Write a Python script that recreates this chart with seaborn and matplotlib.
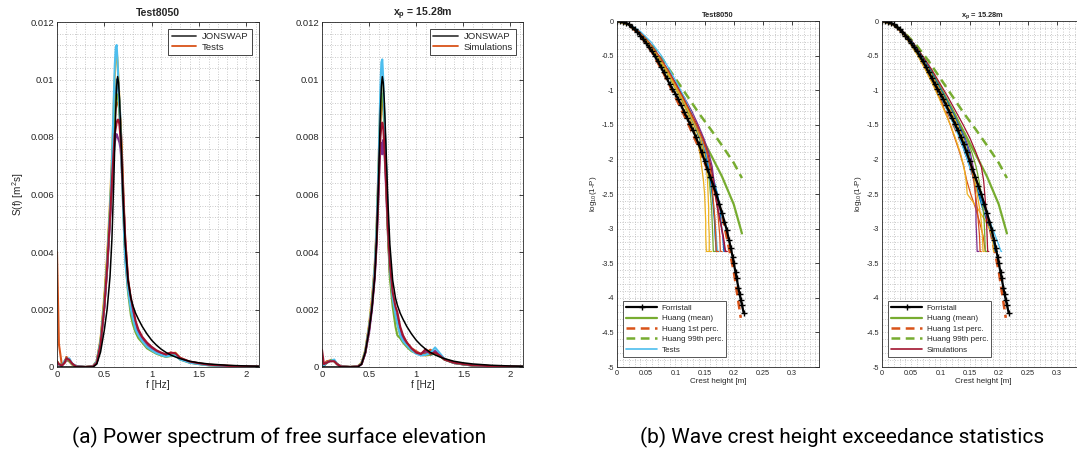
import numpy as np
import matplotlib
matplotlib.use("Agg")
import matplotlib.pyplot as plt
import seaborn as sns
from matplotlib.lines import Line2D
from matplotlib.ticker import AutoMinorLocator

# ---------------- power spectra (values in 1e-4 m^2 s) ----------------
FREQ = [0.00, 0.02, 0.05, 0.08, 0.10, 0.13, 0.16, 0.20, 0.30, 0.38,
        0.42, 0.46, 0.50, 0.53, 0.56, 0.58, 0.60, 0.61, 0.62, 0.63,
        0.64, 0.65, 0.66, 0.67, 0.68, 0.70, 0.72, 0.75, 0.78, 0.80,
        0.83, 0.86, 0.90, 0.95, 1.00, 1.05, 1.10, 1.15, 1.20, 1.25,
        1.30, 1.40, 1.50, 1.60, 1.80, 2.00, 2.13]

JONSWAP = [0, 0, 0, 0, 0, 0, 0, 0, 0, 0,
           1.0, 5.2, 12.9, 20.3, 31.5, 44.6, 65.1, 77.4, 89.3, 97.6,
           101.0, 98.9, 93.3, 85.1, 75.6, 57.1, 42.8, 30.2, 24.0, 21.5,
           18.7, 16.6, 14.1, 11.5, 9.3, 7.6, 6.2, 5.1, 4.2, 3.5,
           2.9, 2.0, 1.45, 1.06, 0.60, 0.36, 0.26]

# measured spectra, Test8050
P1_BLUE = [1.0, 1.0, 0.5, 2.0, 3.0, 2.5, 1.0, 0.3, 0.0, 0.2,
           1.5, 8.0, 21, 35, 53, 68, 84, 92, 97, 100,
           98, 96, 92, 86, 78, 60, 42, 28, 21, 18,
           14, 12, 9.5, 7.5, 6.0, 5.2, 4.4, 3.8, 4.2, 4.0,
           2.8, 1.6, 1.1, 0.7, 0.35, 0.18, 0.1]
P1_ORANGE = [40, 8.0, 1.0, 1.5, 3.5, 2.0, 1.0, 0.2, 0.0, 0.3,
             2.0, 9.0, 23, 37, 54, 67, 80, 86, 90, 92,
             92, 91, 89, 85, 79, 62, 44, 31, 23, 20,
             15, 12.5, 10, 8.0, 6.5, 5.4, 4.8, 4.2, 5.0, 4.6,
             3.0, 1.8, 1.2, 0.8, 0.4, 0.2, 0.12]
P1_YELLOW = [2.0, 1.0, 0.5, 1.5, 2.5, 2.0, 0.8, 0.2, 0.0, 0.2,
             2.2, 10, 25, 39, 58, 73, 92, 101, 107, 110,
             106, 100, 92, 84, 75, 56, 40, 28, 20, 17,
             13, 11, 9.0, 7.0, 6.0, 5.0, 4.2, 3.8, 4.6, 5.0,
             3.2, 1.7, 1.1, 0.7, 0.35, 0.18, 0.1]
P1_PURPLE = [1.5, 0.8, 0.4, 1.5, 2.5, 2.0, 1.0, 0.2, 0.0, 0.2,
             1.6, 8.0, 21, 34, 51, 63, 74, 78, 80, 81,
             80, 79, 78, 76, 72, 58, 43, 30, 22, 19,
             15, 12, 10, 8.0, 6.5, 5.4, 4.6, 4.0, 4.4, 4.2,
             2.8, 1.7, 1.1, 0.7, 0.35, 0.18, 0.1]
P1_GREEN = [2.0, 1.0, 0.6, 2.0, 3.0, 2.0, 1.0, 0.2, 0.0, 0.2,
            2.0, 9.0, 23, 37, 55, 69, 84, 90, 93, 95,
            94, 92, 88, 82, 74, 55, 38, 26, 18, 15,
            12, 10, 8.5, 6.5, 5.5, 4.6, 4.0, 3.5, 3.8, 4.2,
            2.6, 1.5, 1.0, 0.6, 0.3, 0.15, 0.08]
P1_LIGHTBLUE = [1.5, 1.0, 0.5, 2.0, 2.8, 3.0, 1.2, 0.3, 0.0, 0.2,
                2.0, 9.0, 22, 36, 55, 71, 94, 105, 111, 112,
                106, 98, 90, 82, 72, 53, 37, 27, 20, 17,
                13, 11, 9.0, 7.0, 5.8, 4.8, 4.2, 3.6, 4.0, 4.0,
                2.6, 1.5, 1.0, 0.6, 0.3, 0.15, 0.08]
P1_DARKRED = [2.0, 1.0, 0.5, 1.5, 3.0, 2.5, 1.2, 0.2, 0.0, 0.2,
              1.5, 8.0, 21, 35, 52, 65, 76, 81, 83, 85,
              86, 86, 84, 80, 75, 58, 45, 30, 24, 21,
              16, 13, 10.5, 8.5, 7.0, 5.8, 5.0, 4.4, 5.0, 4.8,
              3.2, 1.9, 1.3, 0.8, 0.4, 0.2, 0.12]

# simulated spectra at x_p = 15.28 m
P2_BLUE = [1.0, 0.5, 1.5, 2.0, 2.2, 2.0, 1.0, 0.2, 0.0, 0.2,
           1.0, 5.0, 13, 21, 33, 46, 66, 78, 89, 96,
           98, 95, 88, 80, 70, 50, 35, 24, 18, 16,
           12, 10, 8.0, 6.0, 5.0, 4.5, 4.6, 4.2, 4.8, 4.0,
           2.6, 1.4, 0.9, 0.5, 0.25, 0.12, 0.08]
P2_ORANGE = [2.0, 1.0, 2.0, 2.2, 2.5, 2.2, 1.0, 0.2, 0.0, 0.2,
             1.2, 5.5, 14, 22, 34, 47, 65, 76, 85, 91,
             93, 92, 84, 76, 66, 48, 34, 24, 19, 17,
             13, 10.5, 8.5, 6.5, 5.5, 4.5, 5.0, 6.0, 5.0, 4.2,
             2.8, 1.6, 1.1, 0.6, 0.3, 0.15, 0.1]
P2_YELLOW = [1.0, 0.5, 1.5, 2.0, 2.4, 2.0, 1.0, 0.2, 0.0, 0.3,
             1.5, 6.0, 15, 24, 36, 50, 70, 83, 93, 99,
             100, 96, 88, 78, 68, 48, 33, 23, 17, 15,
             11, 9.0, 7.5, 5.8, 4.8, 4.2, 4.0, 4.4, 5.2, 4.0,
             2.6, 1.5, 1.0, 0.6, 0.3, 0.15, 0.1]
P2_PURPLE = [1.0, 0.5, 1.5, 2.0, 2.2, 2.2, 1.0, 0.2, 0.0, 0.2,
             1.0, 5.0, 12, 20, 31, 43, 60, 70, 76, 78,
             74, 79, 76, 70, 62, 46, 33, 24, 18, 16,
             12, 9.5, 8.0, 6.0, 5.0, 4.5, 5.5, 4.6, 5.6, 4.2,
             2.6, 1.4, 0.9, 0.5, 0.25, 0.12, 0.08]
P2_GREEN = [1.0, 0.5, 1.5, 2.0, 2.5, 2.0, 1.0, 0.2, 0.0, 0.2,
            1.2, 5.5, 14, 22, 34, 47, 67, 79, 88, 94,
            95, 92, 85, 76, 66, 46, 31, 21, 14, 11,
            10, 8.5, 7.0, 5.5, 4.8, 4.2, 4.2, 4.4, 4.6, 3.8,
            2.6, 1.4, 0.9, 0.5, 0.25, 0.12, 0.08]
P2_LIGHTBLUE = [1.0, 0.5, 1.5, 2.0, 2.2, 2.6, 1.0, 0.2, 0.0, 0.2,
                1.2, 5.5, 14, 22, 35, 49, 70, 84, 98, 106,
                107, 100, 90, 80, 70, 50, 35, 24, 18, 15,
                11, 9.0, 7.5, 5.8, 4.6, 4.0, 4.2, 4.8, 6.8, 4.8,
                2.8, 1.5, 1.0, 0.6, 0.3, 0.15, 0.1]
P2_DARKRED = [6.0, 1.0, 1.5, 2.0, 2.0, 2.0, 1.0, 0.2, 0.0, 0.2,
              1.0, 5.0, 13, 21, 32, 44, 62, 72, 80, 84,
              85, 83, 78, 72, 64, 48, 36, 26, 21, 19,
              14, 11, 8.5, 6.5, 5.0, 4.5, 6.2, 4.6, 5.0, 4.0,
              2.6, 1.5, 1.0, 0.6, 0.3, 0.15, 0.1]

# ---------------- crest height exceedance ----------------
# theoretical distributions: crest height [m] vs log10(1-P)
FORRISTALL_X = [0.000, 0.005, 0.010, 0.015, 0.020, 0.025, 0.030, 0.035, 0.040,
                0.045, 0.050, 0.055, 0.060, 0.065, 0.070, 0.075, 0.080, 0.085,
                0.090, 0.095, 0.100, 0.105, 0.110, 0.115, 0.120, 0.125, 0.130,
                0.135, 0.140, 0.145, 0.150, 0.155, 0.160, 0.165, 0.170, 0.175,
                0.180, 0.184, 0.188, 0.192, 0.195, 0.198, 0.200, 0.203, 0.205,
                0.208, 0.210, 0.212, 0.214, 0.217]
FORRISTALL_Y = [0.00, -0.003, -0.01, -0.025, -0.05, -0.08, -0.12, -0.16, -0.21,
                -0.26, -0.32, -0.38, -0.44, -0.51, -0.58, -0.66, -0.74, -0.82,
                -0.91, -0.98, -1.05, -1.13, -1.22, -1.31, -1.40, -1.49, -1.58,
                -1.68, -1.78, -1.90, -2.02, -2.14, -2.26, -2.38, -2.50, -2.64,
                -2.78, -2.90, -3.02, -3.17, -3.28, -3.41, -3.50, -3.63, -3.72,
                -3.86, -3.95, -4.03, -4.10, -4.22]
HUANG_X = [0.000, 0.020, 0.040, 0.060, 0.080, 0.100, 0.120, 0.140, 0.160,
           0.180, 0.200, 0.214]
HUANG_MEAN_Y = [0.00, -0.05, -0.19, -0.40, -0.66, -0.96, -1.27, -1.60, -1.92,
                -2.25, -2.65, -3.07]
HUANG_P99_Y = [0.00, -0.05, -0.18, -0.36, -0.58, -0.83, -1.08, -1.33, -1.56,
               -1.80, -2.05, -2.27]
HUANG_P01_X = [0.000, 0.020, 0.040, 0.060, 0.080, 0.100, 0.120, 0.140, 0.160,
               0.180, 0.200, 0.212]
HUANG_P01_Y = [0.00, -0.05, -0.21, -0.45, -0.76, -1.10, -1.45, -1.83, -2.27,
               -2.80, -3.62, -4.29]

# empirical exceedance levels shared by the measured/simulated records
EXC_LEVELS = [0.0, -0.05, -0.15, -0.3, -0.5, -0.7, -0.9, -1.1, -1.3, -1.5,
              -1.7, -1.9, -2.1, -2.3, -2.5, -2.7, -2.9, -3.1, -3.33, -3.33]

# crest heights [m] of the measured records (Test8050)
T_BLUE = [0.000, 0.020, 0.037, 0.054, 0.071, 0.086, 0.099, 0.112, 0.124, 0.135,
          0.145, 0.153, 0.160, 0.166, 0.172, 0.177, 0.178, 0.181, 0.183, 0.187]
T_ORANGE = [0.000, 0.020, 0.036, 0.053, 0.070, 0.085, 0.098, 0.111, 0.123, 0.134,
            0.144, 0.152, 0.158, 0.163, 0.168, 0.172, 0.174, 0.176, 0.177, 0.180]
T_YELLOW = [0.000, 0.019, 0.035, 0.052, 0.069, 0.083, 0.096, 0.108, 0.119, 0.129,
            0.137, 0.142, 0.145, 0.148, 0.150, 0.151, 0.152, 0.152, 0.153, 0.158]
T_PURPLE = [0.000, 0.020, 0.037, 0.054, 0.072, 0.087, 0.101, 0.115, 0.128, 0.139,
            0.149, 0.157, 0.163, 0.166, 0.169, 0.173, 0.177, 0.181, 0.185, 0.188]
T_GREEN = [0.000, 0.019, 0.036, 0.053, 0.070, 0.085, 0.098, 0.110, 0.121, 0.132,
           0.141, 0.148, 0.154, 0.158, 0.160, 0.162, 0.163, 0.164, 0.165, 0.169]
T_LIGHTBLUE = [0.000, 0.022, 0.040, 0.058, 0.076, 0.090, 0.103, 0.115, 0.126, 0.136,
               0.145, 0.152, 0.157, 0.160, 0.163, 0.166, 0.168, 0.170, 0.172, 0.176]
T_DARKRED = [0.000, 0.020, 0.037, 0.053, 0.071, 0.086, 0.100, 0.113, 0.125, 0.137,
             0.147, 0.155, 0.161, 0.165, 0.168, 0.172, 0.177, 0.182, 0.186, 0.189]
T_BLUE2 = [0.000, 0.019, 0.036, 0.053, 0.070, 0.085, 0.098, 0.110, 0.122, 0.133,
           0.142, 0.150, 0.156, 0.160, 0.163, 0.165, 0.167, 0.168, 0.170, 0.172]
T_ORANGE2 = [0.000, 0.020, 0.037, 0.054, 0.071, 0.086, 0.099, 0.112, 0.124, 0.136,
             0.146, 0.154, 0.159, 0.162, 0.164, 0.166, 0.168, 0.169, 0.170, 0.174]
T_YELLOW2 = [0.000, 0.019, 0.035, 0.052, 0.069, 0.084, 0.097, 0.110, 0.122, 0.133,
             0.143, 0.149, 0.153, 0.155, 0.156, 0.157, 0.157, 0.158, 0.158, 0.162]

# crest heights [m] of the simulated records (x_p = 15.28 m)
S_BLUE = [0.000, 0.019, 0.034, 0.049, 0.065, 0.079, 0.091, 0.103, 0.114, 0.125,
          0.134, 0.142, 0.150, 0.158, 0.165, 0.172, 0.180, 0.188, 0.195, 0.198]
S_ORANGE = [0.000, 0.018, 0.033, 0.047, 0.062, 0.075, 0.087, 0.098, 0.108, 0.117,
            0.125, 0.133, 0.140, 0.145, 0.152, 0.160, 0.167, 0.173, 0.177, 0.180]
S_YELLOW = [0.000, 0.018, 0.032, 0.046, 0.061, 0.074, 0.086, 0.097, 0.107, 0.117,
            0.126, 0.134, 0.140, 0.144, 0.146, 0.163, 0.178, 0.189, 0.191, 0.194]
S_PURPLE = [0.000, 0.019, 0.034, 0.050, 0.066, 0.081, 0.095, 0.108, 0.121, 0.133,
            0.143, 0.151, 0.156, 0.159, 0.160, 0.161, 0.161, 0.162, 0.163, 0.166]
S_GREEN = [0.000, 0.019, 0.035, 0.051, 0.068, 0.083, 0.096, 0.109, 0.122, 0.134,
           0.145, 0.154, 0.161, 0.166, 0.170, 0.173, 0.175, 0.176, 0.177, 0.179]
S_LIGHTBLUE = [0.000, 0.018, 0.033, 0.048, 0.063, 0.077, 0.089, 0.101, 0.112, 0.123,
               0.133, 0.142, 0.150, 0.158, 0.167, 0.176, 0.185, 0.194, 0.204, 0.205]
S_DARKRED = [0.000, 0.020, 0.036, 0.052, 0.069, 0.085, 0.099, 0.113, 0.126, 0.139,
             0.151, 0.161, 0.170, 0.174, 0.176, 0.178, 0.179, 0.180, 0.181, 0.183]
S_BLUE2 = [0.000, 0.019, 0.035, 0.051, 0.067, 0.082, 0.095, 0.108, 0.120, 0.131,
           0.141, 0.149, 0.153, 0.157, 0.166, 0.176, 0.184, 0.190, 0.194, 0.196]
S_ORANGE2 = [0.000, 0.018, 0.033, 0.048, 0.064, 0.078, 0.091, 0.104, 0.116, 0.127,
             0.137, 0.145, 0.152, 0.157, 0.160, 0.163, 0.165, 0.167, 0.168, 0.170]
S_YELLOW2 = [0.000, 0.019, 0.034, 0.049, 0.065, 0.080, 0.093, 0.106, 0.118, 0.129,
             0.139, 0.147, 0.154, 0.159, 0.163, 0.167, 0.170, 0.172, 0.173, 0.175]

# tick labels
SPEC_XTICKS = [0, 0.5, 1, 1.5, 2]
SPEC_XLABELS = ["0", "0.5", "1", "1.5", "2"]
SPEC_YTICKS = [0, 0.002, 0.004, 0.006, 0.008, 0.01, 0.012]
SPEC_YLABELS = ["0", "0.002", "0.004", "0.006", "0.008", "0.01", "0.012"]
EXC_XTICKS = [0, 0.05, 0.1, 0.15, 0.2, 0.25, 0.3]
EXC_XLABELS = ["0", "0.05", "0.1", "0.15", "0.2", "0.25", "0.3"]
EXC_YTICKS = [0, -0.5, -1, -1.5, -2, -2.5, -3, -3.5, -4, -4.5, -5]
EXC_YLABELS = ["0", "-0.5", "-1", "-1.5", "-2", "-2.5", "-3", "-3.5", "-4", "-4.5", "-5"]

# MATLAB default line colour order
C_BLUE, C_ORANGE, C_YELLOW = "#0072BD", "#D95319", "#EDB120"
C_PURPLE, C_GREEN, C_LIGHTBLUE, C_DARKRED = "#7E2F8E", "#77AC30", "#4DBEEE", "#A2142F"
PALETTE = [C_BLUE, C_ORANGE, C_YELLOW, C_PURPLE, C_GREEN, C_LIGHTBLUE, C_DARKRED]
DASH = (0, (3.5, 2.2))

sns.set_theme(style="white")
plt.rcParams["font.family"] = ["Liberation Sans", "DejaVu Sans"]
plt.rcParams.update({
    "axes.unicode_minus": False,
    "mathtext.fontset": "custom",
    "mathtext.rm": "Liberation Sans",
    "mathtext.it": "Liberation Sans:italic",
    "mathtext.bf": "Liberation Sans:bold",
    "text.color": "#262626",
    "axes.labelcolor": "#262626",
    "xtick.color": "#262626",
    "ytick.color": "#262626",
})

W, H = 1077, 450
fig = plt.figure(figsize=(W / 100, H / 100), dpi=100)


def px_axes(left, top, right, bottom):
    return fig.add_axes([left / W, 1 - bottom / H, (right - left) / W, (bottom - top) / H])


def style_axes(ax, fs, xt, xl, yt, yl, xlim, ylim):
    ax.set_xlim(*xlim)
    ax.set_ylim(*ylim)
    ax.set_xticks(xt, xl)
    ax.set_yticks(yt, yl)
    ax.xaxis.set_minor_locator(AutoMinorLocator(5))
    ax.yaxis.set_minor_locator(AutoMinorLocator(5))
    ax.grid(which="both", linestyle=(0, (1, 2)), color="#b8b8b8", linewidth=0.6)
    ax.set_axisbelow(True)
    ax.tick_params(which="major", direction="in", length=3, width=0.6,
                   top=True, right=True, labelsize=fs, pad=2)
    ax.tick_params(which="minor", length=0)
    for sp in ax.spines.values():
        sp.set_visible(True)
        sp.set_color("#262626")
        sp.set_linewidth(0.6)


def spectrum_panel(ax, curves, title, series_label):
    for vals, col in zip(curves, PALETTE):
        sns.lineplot(x=FREQ, y=np.array(vals) * 1e-4, ax=ax, color=col, lw=1.5,
                     estimator=None, sort=False)
    sns.lineplot(x=FREQ, y=np.array(JONSWAP) * 1e-4, ax=ax, color="black", lw=1.1,
                 estimator=None, sort=False)
    style_axes(ax, 6.8, SPEC_XTICKS, SPEC_XLABELS, SPEC_YTICKS, SPEC_YLABELS,
               (0, 2.133), (0, 0.012))
    ax.set_title(title, fontsize=7.6, fontweight="bold", pad=4)
    ax.set_xlabel("f [Hz]", fontsize=7.2, labelpad=1)
    handles = [Line2D([], [], color="#404040", lw=1.3),
               Line2D([], [], color=C_ORANGE, lw=1.3)]
    leg = ax.legend(handles, ["JONSWAP", series_label], loc="upper right",
                    bbox_to_anchor=(0.965, 0.98), borderaxespad=0, fontsize=6.8,
                    frameon=True, fancybox=False, framealpha=1, handlelength=2.6,
                    handletextpad=0.6, borderpad=0.35, labelspacing=0.15)
    leg.get_frame().set_edgecolor("#262626")
    leg.get_frame().set_linewidth(0.6)


def exceedance_panel(ax, curves, title, series_label, series_color):
    sns.lineplot(x=HUANG_X, y=HUANG_MEAN_Y, ax=ax, color=C_GREEN, lw=1.6,
                 estimator=None, sort=False)
    sns.lineplot(x=HUANG_P01_X, y=HUANG_P01_Y, ax=ax, color=C_ORANGE, lw=1.8,
                 linestyle=DASH, estimator=None, sort=False)
    sns.lineplot(x=HUANG_X, y=HUANG_P99_Y, ax=ax, color=C_GREEN, lw=1.8,
                 linestyle=DASH, estimator=None, sort=False)
    for xs, col in zip(curves, PALETTE * 2):
        sns.lineplot(x=xs, y=EXC_LEVELS, ax=ax, color=col, lw=0.9,
                     estimator=None, sort=False)
    sns.lineplot(x=FORRISTALL_X, y=FORRISTALL_Y, ax=ax, color="black", lw=1.6,
                 marker="+", markersize=4.5, markeredgewidth=1.0,
                 markeredgecolor="black", estimator=None, sort=False)
    style_axes(ax, 5.2, EXC_XTICKS, EXC_XLABELS, EXC_YTICKS, EXC_YLABELS,
               (0, 0.346), (-5, 0))
    ax.set_title(title, fontsize=5.4, fontweight="bold", pad=3)
    ax.set_xlabel("Crest height [m]", fontsize=5.8, labelpad=1)
    ax.set_ylabel(r"log$_{10}$(1-P)", fontsize=5.8, labelpad=2)
    handles = [Line2D([], [], color="black", lw=1.6, marker="+", markersize=4.5,
                      markeredgewidth=1.0),
               Line2D([], [], color=C_GREEN, lw=1.6),
               Line2D([], [], color=C_ORANGE, lw=1.8, linestyle=DASH),
               Line2D([], [], color=C_GREEN, lw=1.8, linestyle=DASH),
               Line2D([], [], color=series_color, lw=1.2)]
    labels = ["Forristall", "Huang (mean)", "Huang 1st perc.", "Huang 99th perc.",
              series_label]
    leg = ax.legend(handles, labels, loc="lower left", bbox_to_anchor=(0.03, 0.029),
                    borderaxespad=0, fontsize=5.8, frameon=True, fancybox=False,
                    framealpha=1, handlelength=3.8, handletextpad=0.6,
                    borderpad=0.4, labelspacing=0.35)
    leg.get_frame().set_edgecolor("#555555")
    leg.get_frame().set_linewidth(0.7)


ax1 = px_axes(57, 22, 259, 367)
spectrum_panel(ax1, [P1_BLUE, P1_ORANGE, P1_YELLOW, P1_PURPLE, P1_GREEN,
                     P1_LIGHTBLUE, P1_DARKRED], "Test8050", "Tests")
ax1.set_ylabel(r"S(f) [m$^{2}$s]", fontsize=7.2, labelpad=3)

ax2 = px_axes(322, 22, 523, 367)
spectrum_panel(ax2, [P2_BLUE, P2_ORANGE, P2_YELLOW, P2_PURPLE, P2_GREEN,
                     P2_LIGHTBLUE, P2_DARKRED], r"$\mathbf{x_p}$ = 15.28m", "Simulations")
ax2.set_ylabel("")

ax3 = px_axes(617, 21, 819, 367)
exceedance_panel(ax3, [T_BLUE, T_ORANGE, T_YELLOW, T_PURPLE, T_GREEN,
                       T_LIGHTBLUE, T_DARKRED, T_BLUE2, T_ORANGE2, T_YELLOW2],
                 "Test8050", "Tests", C_LIGHTBLUE)

ax4 = px_axes(882, 21, 1084, 367)
exceedance_panel(ax4, [S_BLUE, S_ORANGE, S_YELLOW, S_PURPLE, S_GREEN,
                       S_LIGHTBLUE, S_DARKRED, S_BLUE2, S_ORANGE2, S_YELLOW2],
                 r"$\mathbf{x_p}$ = 15.28m", "Simulations", C_DARKRED)

cap_font = ["Roboto", "DejaVu Sans"]
fig.text(279.5 / W, 1 - 437 / H, "(a) Power spectrum of free surface elevation",
         ha="center", va="center", fontsize=15, family=cap_font, color="black")
fig.text(842 / W, 1 - 437 / H, "(b) Wave crest height exceedance statistics",
         ha="center", va="center", fontsize=15, family=cap_font, color="black")

fig.savefig("out.png", dpi=100)
